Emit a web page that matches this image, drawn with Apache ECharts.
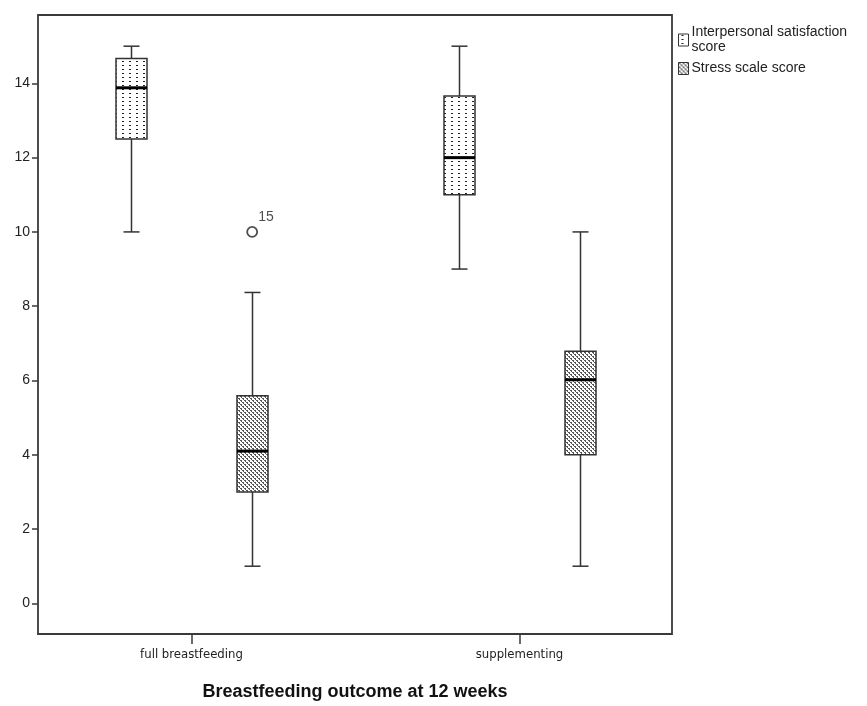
<!DOCTYPE html>
<html>
<head>
    <meta charset="UTF-8">
    <title>Breastfeeding outcome boxplot</title>
    <style>
        html, body { margin: 0; padding: 0; background: #fff; }
        #main { width: 867px; height: 706px; }
    </style>
</head>
<body>
    <div id="main"></div>

    <script src="https://cdn.jsdelivr.net/npm/echarts@6/dist/echarts.min.js"></script>
    <script>
        // data: [min, Q1, median, Q3, max] per category
        var categories = ['full breastfeeding', 'supplementing'];
        var seriesNames = ['Interpersonal satisfaction score', 'Stress scale score'];
        var satisfactionBoxes = [
            [10, 12.5, 13.88, 14.67, 15],
            [9, 11, 12, 13.66, 15]
        ];
        var stressBoxes = [
            [1, 3, 4.1, 5.59, 8.37],
            [1, 4, 6.02, 6.79, 10]
        ];
        // outliers of the stress series: [category index, value, case label]
        var stressOutliers = [
            [0, 10, '15']
        ];
        var yTicks = [0, 2, 4, 6, 8, 10, 12, 14];

        var clusterShift = 0.185;   // half distance between the two boxes of a cluster, in category units
        var boxWidth = 31;
        var capWidth = 16;
        var lineColor = '#333';

        function makePattern(w, h, dots, color) {
            var c = document.createElement('canvas');
            c.width = w;
            c.height = h;
            var ctx = c.getContext('2d');
            ctx.fillStyle = '#fff';
            ctx.fillRect(0, 0, w, h);
            ctx.fillStyle = color;
            dots.forEach(function (d) {
                ctx.fillRect(d[0], d[1], d[2], d[3]);
            });
            return { image: c, repeat: 'repeat' };
        }

        var sparseDots = makePattern(7, 4, [[3, 1, 2, 1]], '#222');
        var denseDots = makePattern(4, 4, [[0, 0, 2, 1], [1, 1, 1, 1], [2, 2, 2, 1], [3, 3, 1, 1]], '#555');

        function boxRenderer(shift, fill) {
            return function (params, api) {
                var x = api.value(0) + shift;
                var lo = api.coord([x, api.value(1)]);
                var q1 = api.coord([x, api.value(2)]);
                var med = api.coord([x, api.value(3)]);
                var q3 = api.coord([x, api.value(4)]);
                var hi = api.coord([x, api.value(5)]);
                var cx = Math.round(lo[0]) + 0.5;
                var lineStyle = { stroke: lineColor, lineWidth: 1.5 };
                return {
                    type: 'group',
                    children: [
                        { type: 'line', shape: { x1: cx, y1: hi[1], x2: cx, y2: q3[1] }, style: lineStyle },
                        { type: 'line', shape: { x1: cx, y1: q1[1], x2: cx, y2: lo[1] }, style: lineStyle },
                        { type: 'line', shape: { x1: cx - capWidth / 2, y1: hi[1], x2: cx + capWidth / 2, y2: hi[1] }, style: lineStyle },
                        { type: 'line', shape: { x1: cx - capWidth / 2, y1: lo[1], x2: cx + capWidth / 2, y2: lo[1] }, style: lineStyle },
                        {
                            type: 'rect',
                            shape: { x: cx - boxWidth / 2, y: q3[1], width: boxWidth, height: q1[1] - q3[1] },
                            style: { fill: fill, stroke: lineColor, lineWidth: 1.5 }
                        },
                        {
                            type: 'line',
                            shape: { x1: cx - boxWidth / 2, y1: med[1], x2: cx + boxWidth / 2, y2: med[1] },
                            style: { stroke: '#000', lineWidth: 3 }
                        }
                    ]
                };
            };
        }

        function withIndex(rows) {
            return rows.map(function (r, i) { return [i].concat(r); });
        }

        var option = {
            animation: false,
            backgroundColor: '#fff',
            grid: {
                left: 38, right: 195, top: 15, bottom: 65,
                show: true, borderColor: '#3a3a3a', borderWidth: 1.8,
                backgroundColor: 'transparent'
            },
            legend: {
                orient: 'vertical',
                left: 673, top: 20,
                itemWidth: 10, itemHeight: 12, itemGap: 6,
                icon: 'rect',
                selectedMode: false,
                data: [
                    { name: seriesNames[0], itemStyle: { color: sparseDots, borderColor: lineColor, borderWidth: 1 } },
                    { name: seriesNames[1], itemStyle: { color: denseDots, borderColor: lineColor, borderWidth: 1 } }
                ],
                formatter: function (name) {
                    return name === seriesNames[0] ? 'Interpersonal satisfaction\nscore' : name;
                },
                textStyle: {
                    fontFamily: 'Liberation Sans', fontSize: 14, color: '#222',
                    lineHeight: 15, padding: [0, 0, 0, -2]
                }
            },
            xAxis: {
                type: 'value',
                min: -0.468, max: 1.465,
                splitLine: { show: false },
                axisLine: { show: false, onZero: false },
                axisTick: { show: true, length: 10, customValues: [0, 1], lineStyle: { color: '#3a3a3a', width: 1.5 } },
                axisLabel: {
                    customValues: [0, 1],
                    margin: 14,
                    fontFamily: '"DejaVu Sans Condensed", "Liberation Sans"',
                    fontSize: 13,
                    color: '#222',
                    formatter: function (v) { return categories[Math.round(v)]; }
                },
                name: 'Breastfeeding outcome at 12 weeks',
                nameLocation: 'middle',
                nameGap: 49,
                nameTextStyle: { fontFamily: 'Liberation Sans', fontWeight: 'bold', fontSize: 18, color: '#111' }
            },
            yAxis: {
                type: 'value',
                min: -0.825, max: 15.84,
                splitLine: { show: false },
                axisLine: { show: false, onZero: false },
                axisTick: { show: true, length: 6, customValues: yTicks, lineStyle: { color: '#3a3a3a', width: 1.5 } },
                axisLabel: {
                    customValues: yTicks,
                    margin: 8,
                    fontFamily: 'Liberation Sans',
                    fontSize: 14,
                    color: '#222'
                }
            },
            series: [
                {
                    name: seriesNames[0],
                    type: 'custom',
                    itemStyle: { color: sparseDots, borderColor: lineColor },
                    renderItem: boxRenderer(-clusterShift, sparseDots),
                    encode: { x: 0, y: [1, 2, 3, 4, 5] },
                    data: withIndex(satisfactionBoxes)
                },
                {
                    name: seriesNames[1],
                    type: 'custom',
                    itemStyle: { color: denseDots, borderColor: lineColor },
                    renderItem: boxRenderer(clusterShift, denseDots),
                    encode: { x: 0, y: [1, 2, 3, 4, 5] },
                    data: withIndex(stressBoxes)
                },
                {
                    name: 'outliers',
                    type: 'scatter',
                    symbol: 'circle',
                    symbolSize: 10,
                    itemStyle: { color: '#fff', borderColor: '#222', borderWidth: 1.8 },
                    label: {
                        show: true,
                        position: [12, -16],
                        fontFamily: 'Liberation Sans',
                        fontSize: 14,
                        color: '#222',
                        formatter: function (p) { return p.data[2]; }
                    },
                    data: stressOutliers.map(function (o) { return [o[0] + clusterShift, o[1], o[2]]; })
                }
            ]
        };

        var myChart = echarts.init(document.getElementById('main'));
        myChart.setOption(option);
    </script>
</body>
</html>
